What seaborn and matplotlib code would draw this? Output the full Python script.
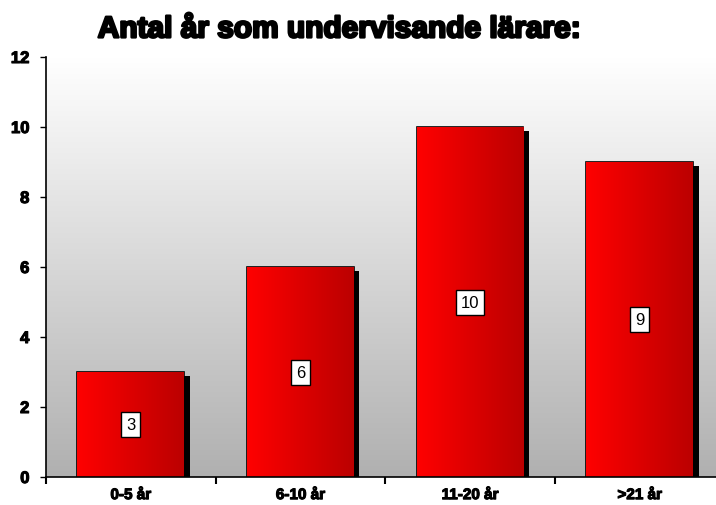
import numpy as np
import pandas as pd
import matplotlib
matplotlib.use("Agg")
import matplotlib.pyplot as plt
import matplotlib.patheffects as pe
from matplotlib.colors import LinearSegmentedColormap
import seaborn as sns

# chart data
categories = ["0-5 år", "6-10 år", "11-20 år", ">21 år"]
counts = [3, 6, 10, 9]
y_ticks = [0, 2, 4, 6, 8, 10, 12]
title = "Antal år som undervisande lärare:"

df = pd.DataFrame({"kategori": categories, "antal": counts})

sns.set_style("white")
plt.rcParams["font.family"] = ["Liberation Sans", "DejaVu Sans"]
plt.rcParams["text.color"] = "black"
plt.rcParams["xtick.color"] = "black"
plt.rcParams["ytick.color"] = "black"

fig = plt.figure(figsize=(7.16, 5.06), dpi=100)
ax = fig.add_axes([46 / 716, 28 / 506, 670 / 716, 420 / 506])

# plot area background: white at top fading to gray at bottom
bg_cmap = LinearSegmentedColormap.from_list("bg", ["#ffffff", "#b0b0b0"])
grad = np.linspace(0, 1, 256).reshape(-1, 1)
ax.imshow(grad, cmap=bg_cmap, aspect="auto", extent=(-0.5, 3.45, 0, 12),
          origin="upper", zorder=0)

sns.barplot(data=df, x="kategori", y="antal", ax=ax, width=0.63,
            color="red", edgecolor="black", linewidth=1.2, zorder=2)

# red gradient on each bar + drop shadow
bar_cmap = LinearSegmentedColormap.from_list("bar", ["#ff0000", "#bb0000"])
hgrad = np.linspace(0, 1, 256).reshape(1, -1)
for patch, val in zip(ax.patches, counts):
    patch.set_path_effects([pe.SimplePatchShadow(offset=(4, -3), shadow_rgbFace="black",
                                                 alpha=1.0), pe.Normal()])
    x0 = patch.get_x()
    w = patch.get_width()
    im = ax.imshow(hgrad, cmap=bar_cmap, aspect="auto",
                   extent=(x0, x0 + w, 0, val), zorder=2.5)
    im.set_clip_path(patch)
    ax.text(x0 + w / 2, val / 2, str(val), ha="center", va="center",
            fontsize=12, zorder=4,
            bbox=dict(boxstyle="square,pad=0.3", fc="white", ec="black", lw=1))

ax.set_xlim(-0.5, 3.45)
ax.set_ylim(0, 12)
thick = [pe.withStroke(linewidth=0.8, foreground="black")]
ax.set_yticks(y_ticks)
ax.set_yticklabels([str(t) for t in y_ticks], fontweight="bold", fontsize=12,
                   path_effects=thick)
ax.set_xticks(range(len(categories)))
ax.set_xticklabels(categories, fontweight="bold", fontsize=11, path_effects=thick)
ax.tick_params(axis="x", length=0, pad=8)
ax.tick_params(axis="y", length=4, width=1, left=True, pad=8)
# tick marks between categories on x axis
ax.set_xticks([-0.5, 0.5, 1.5, 2.5], minor=True)
ax.tick_params(axis="x", which="minor", length=5, width=1.5, bottom=True)
ax.set_xlabel("")
ax.set_ylabel("")

for side in ["top", "right"]:
    ax.spines[side].set_visible(False)
for side in ["left", "bottom"]:
    ax.spines[side].set_color("black")
    ax.spines[side].set_linewidth(1.2)

fig.text(0.474, 0.94, title, ha="center", va="center", fontsize=21.5,
         fontweight="bold", color="black",
         path_effects=[pe.withStroke(linewidth=1.8, foreground="black")])

fig.savefig("out.png", dpi=100)
